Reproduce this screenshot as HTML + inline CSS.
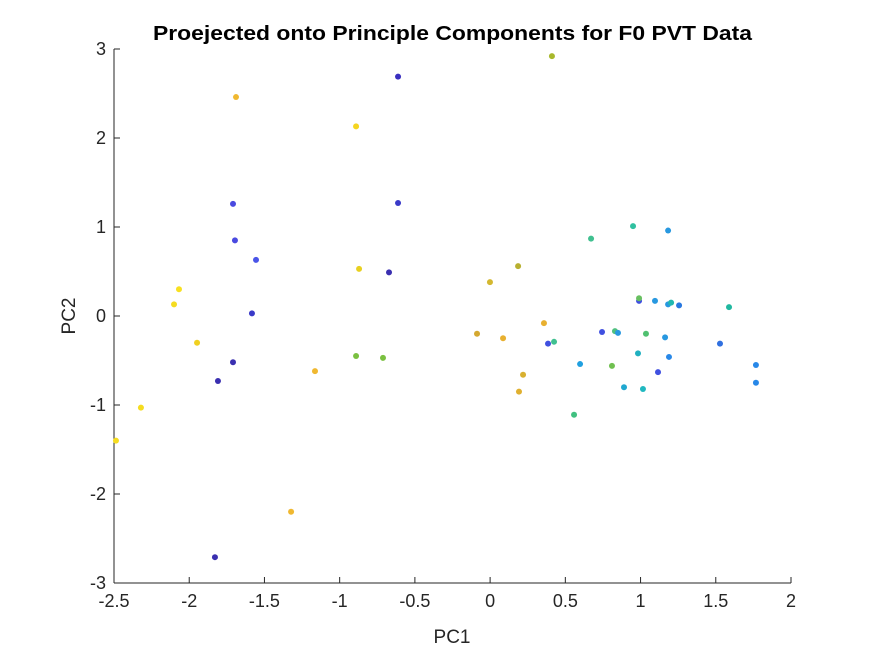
<!DOCTYPE html>
<html><head><meta charset="utf-8"><style>
body{margin:0;background:#fff;width:875px;height:656px;overflow:hidden}
svg text{font-family:"Liberation Sans",Arial,sans-serif;fill:#262626}
</style></head><body>
<svg id="chart" width="875" height="656" xmlns="http://www.w3.org/2000/svg">
<text x="153" y="40" font-size="20" font-weight="bold" textLength="599" lengthAdjust="spacingAndGlyphs" style="fill:#000">Proejected onto Principle Components for F0 PVT Data</text>
<text x="452" y="643" text-anchor="middle" font-size="19">PC1</text>
<text transform="translate(75,316) rotate(-90)" text-anchor="middle" font-size="19">PC2</text>
<g id="axes"></g><g id="marks"></g>
</svg>
<script>
const xTicks=[-2.5,-2,-1.5,-1,-0.5,0,0.5,1,1.5,2];
const yTicks=[-3,-2,-1,0,1,2,3];
const xTickLabels=["-2.5","-2","-1.5","-1","-0.5","0","0.5","1","1.5","2"];
const yTickLabels=["-3","-2","-1","0","1","2","3"];
const pc1=[-1.689,-0.612,0.411,-0.891,-1.709,-0.612,-1.696,-1.556,-0.871,-0.672,-2.068,-2.101,-1.583,-1.948,-1.709,-0.891,-0.712,-1.164,-1.809,-2.321,-2.487,-1.323,-1.829,
-0.001,0.186,-0.087,0.086,0.358,0.219,0.192,0.950,0.671,1.183,0.99,0.99,1.096,1.183,1.203,1.256,1.588,0.744,0.830,0.850,1.036,1.163,0.385,0.425,1.528,0.983,1.189,0.598,0.810,1.767,1.116,1.767,0.890,1.016,0.558];
const pc2=[2.46,2.69,2.92,2.13,1.26,1.27,0.85,0.63,0.53,0.49,0.30,0.13,0.03,-0.30,-0.52,-0.45,-0.47,-0.62,-0.73,-1.03,-1.40,-2.20,-2.71,
0.38,0.56,-0.20,-0.25,-0.08,-0.66,-0.85,1.01,0.87,0.96,0.17,0.20,0.17,0.13,0.15,0.12,0.10,-0.18,-0.17,-0.19,-0.20,-0.24,-0.31,-0.29,-0.31,-0.42,-0.46,-0.54,-0.56,-0.55,-0.63,-0.75,-0.80,-0.82,-1.11];
const colors=["#f0b830","#3a2fc0","#a8b82c","#f5d520","#4a4ae0","#3a3ac8","#4a4ae0","#4a55e8","#e8d020","#3a2fb0","#f8e020","#f5dc20","#3a3ac8","#f0d020","#3a2fb0","#7ac040","#7ac040","#f0b830","#3a2fb0","#f5dc20","#f5dc20","#f0b830","#3a2fb0",
"#d4b830","#b8b030","#d4a830","#e8b030","#e8b030","#d8b030","#e0b030","#30c0a0","#40c090","#2898e0","#4050e0","#68c060","#2898e0","#2898e0","#20b8b0","#2878e0","#20b8a0","#4050e0","#50c080","#2898e0","#50c070","#2898e0","#4050e0","#40c090","#3070e0","#20b0c0","#2888e8","#20a0e0","#70c050","#2888e8","#4050e0","#2888e8","#20a8d0","#20b8c0","#40c080"];
const L=114,R=791,T=49,B=583,xmin=-2.5,xmax=2,ymin=-3,ymax=3;
const sx=v=>L+(v-xmin)/(xmax-xmin)*(R-L);
const sy=v=>B-(v-ymin)/(ymax-ymin)*(B-T);
const NS="http://www.w3.org/2000/svg";
const axes=document.getElementById('axes'),marks=document.getElementById('marks');
function mk(tag,attrs,parent){const e=document.createElementNS(NS,tag);for(const k in attrs)e.setAttribute(k,attrs[k]);parent.appendChild(e);return e;}
const xa=mk('line',{x1:L,y1:B,x2:R,y2:B,stroke:'#262626','stroke-width':1},axes);


const ya=mk('line',{x1:L,y1:T,x2:L,y2:B,stroke:'#262626','stroke-width':1},axes);


xTicks.forEach((v,i)=>{const x=sx(v);
 const t=mk('line',{x1:x,y1:B,x2:x,y2:B-6,stroke:'#262626'},axes);
 
 
 const lb=mk('text',{x:x,y:B+24,'text-anchor':'middle','font-size':18},axes);lb.textContent=xTickLabels[i];
 
 });
yTicks.forEach((v,i)=>{const y=sy(v);
 const t=mk('line',{x1:L,y1:y,x2:L+6,y2:y,stroke:'#262626'},axes);
 
 
 const lb=mk('text',{x:L-8,y:y+6,'text-anchor':'end','font-size':18},axes);lb.textContent=yTickLabels[i];
 
 });
pc1.forEach((v,i)=>{const c=mk('circle',{cx:sx(v),cy:sy(pc2[i]),r:3,fill:colors[i]},marks);
 
 });
</script>
</body></html>
